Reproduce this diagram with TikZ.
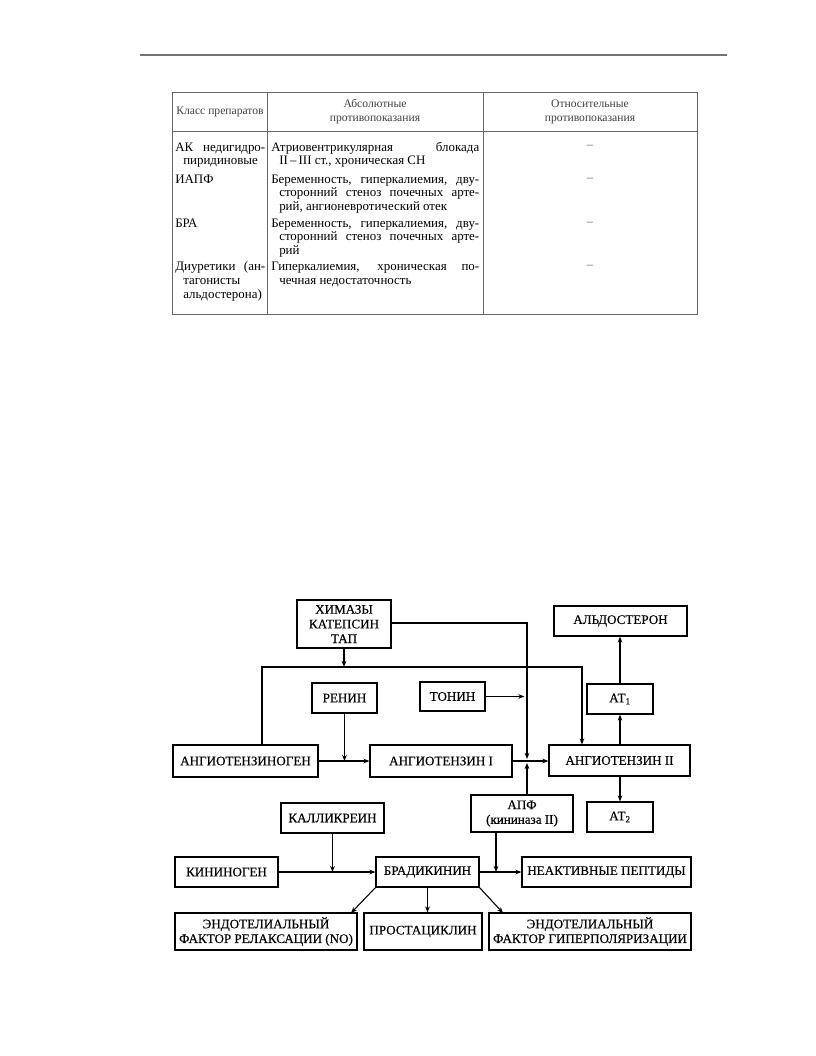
\documentclass[tikz,border=0pt]{standalone}
\usepackage{fontspec}
\setmainfont{Liberation Serif}
\newfontfamily\diafont[FakeBold=0.35]{Liberation Serif}
\usetikzlibrary{arrows.meta}
\newcommand\mybox[6]{\node[box, minimum width={(#4-#2)*0.75pt}, minimum height={(#5-#3)*0.75pt}] (#1) at ({(#2+#4)/2},{(#3+#5)/2}) {#6};}
\begin{document}
\begin{tikzpicture}[x=0.75pt,y=-0.75pt,
  box/.style={draw, line width=0.9pt, inner sep=0pt, align=center, font=\diafont\fontsize{9.8}{11}\selectfont},
  arr/.style={line width=0.8pt, -{Stealth[length=4.5pt,width=3.5pt]}},
  tl/.style={draw=black!60, line width=0.7pt},
  cell/.style={anchor=base west, inner sep=0pt, font=\fontsize{9.7}{11}\selectfont},
  dsh/.style={inner sep=0pt, font=\fontsize{9.3}{11}\selectfont, text=black!60},
  hdr/.style={inner sep=0pt, align=center, font=\fontsize{8.7}{10.5}\selectfont, text=black!75}]
\useasboundingbox (0,0) rectangle (816,1056);
% page rule
\draw[draw=black!55, line width=0.8pt] (140,55) -- (727,55);
% table frame
\draw[tl] (172,92) rectangle (697,314);
\draw[tl] (172,131) -- (697,131);
\draw[tl] (267,92) -- (267,314);
\draw[tl] (483,92) -- (483,314);
% header
\node[hdr] (h1) at (220,112) {Класс препаратов};
\node[hdr] (h2) at (375,112) {Абсолютные\\противопоказания};
\node[hdr] (h3) at (590,112) {Относительные\\противопоказания};
% column 1
\node[cell] (a1) at (175,151) {\makebox[67.5pt][s]{АК недигидро-}};
\node[cell] (a2) at (183,164) {пиридиновые};
\node[cell] (a3) at (175,183) {ИАПФ};
\node[cell] (a4) at (175,227) {БРА};
\node[cell] (a5) at (175,270) {\makebox[67.5pt][s]{Диуретики (ан-}};
\node[cell] (a6) at (183,284) {тагонисты};
\node[cell] (a7) at (183,298) {альдостерона)};
% column 2
\node[cell] (b1) at (271,151) {\makebox[156pt][s]{Атриовентрикулярная блокада}};
\node[cell] (b2) at (279,164) {II\,–\,III ст., хроническая СН};
\node[cell] (b3) at (271,183) {\makebox[156pt][s]{Беременность, гиперкалиемия, дву-}};
\node[cell] (b4) at (279,196) {\makebox[150pt][s]{сторонний стеноз почечных арте-}};
\node[cell] (b5) at (279,210) {рий, ангионевротический отек};
\node[cell] (b6) at (271,227) {\makebox[156pt][s]{Беременность, гиперкалиемия, дву-}};
\node[cell] (b7) at (279,240) {\makebox[150pt][s]{сторонний стеноз почечных арте-}};
\node[cell] (b8) at (279,254) {рий};
\node[cell] (b9) at (271,270) {\makebox[156pt][s]{Гиперкалиемия, хроническая по-}};
\node[cell] (b10) at (279,284) {чечная недостаточность};
% column 3
\node[dsh] (c1) at (590,147) {–};
\node[dsh] (c2) at (590,180) {–};
\node[dsh] (c3) at (590,224) {–};
\node[dsh] (c4) at (590,267) {–};

% ---------- diagram ----------
\mybox{chym}{297}{600}{391}{648}{ХИМАЗЫ\\КАТЕПСИН\\ТАП}
\mybox{renin}{312}{683}{377}{713}{РЕНИН}
\mybox{tonin}{420}{682}{485}{711}{ТОНИН}
\mybox{aldo}{554}{606}{687}{636}{АЛЬДОСТЕРОН}
\mybox{at1}{587}{684}{653}{714}{АТ\textsubscript{1}}
\mybox{agen}{173}{745}{318}{777}{АНГИОТЕНЗИНОГЕН}
\mybox{ang1}{370}{745}{512}{777}{АНГИОТЕНЗИН I}
\mybox{ang2}{549}{745}{690}{776}{АНГИОТЕНЗИН II}
\mybox{apf}{471}{795}{573}{832}{АПФ\\(кининаза II)}
\mybox{at2}{587}{802}{653}{832}{АТ\textsubscript{2}}
\mybox{kal}{281}{803}{384}{833}{КАЛЛИКРЕИН}
\mybox{kgen}{175}{857}{278}{887}{КИНИНОГЕН}
\mybox{brad}{376}{857}{479}{887}{БРАДИКИНИН}
\mybox{inact}{522}{857}{691}{887}{НЕАКТИВНЫЕ ПЕПТИДЫ}
\mybox{edrf}{175}{913}{357}{950}{ЭНДОТЕЛИАЛЬНЫЙ\\ФАКТОР РЕЛАКСАЦИИ (NO)}
\mybox{prost}{364}{913}{482}{950}{ПРОСТАЦИКЛИН}
\mybox{edhf}{489}{913}{691}{950}{ЭНДОТЕЛИАЛЬНЫЙ\\ФАКТОР ГИПЕРПОЛЯРИЗАЦИИ}

\coordinate (l1) at (262,667);
\coordinate (r1) at (582,667);
\coordinate (vx) at (527,623);
\coordinate (m1) at (527,761);
\coordinate (ax) at (496,872);
\coordinate (dl) at (351,913);
\coordinate (dr) at (503,913);

% big loop from angiotensinogen to angiotensin II
\draw[arr] (agen.north -| l1) -- (l1) -- (r1) -- (ang2.north -| r1);
\draw[arr] (chym.south) -- (chym.south |- l1);
% chymase line down to the ANG I - ANG II arrow
\draw[arr] (chym.east |- vx) -- (vx) -- ([yshift=1.5pt]m1);
\draw[arr] (apf.north -| m1) -- ([yshift=-1.5pt]m1);
\draw[arr] (tonin.east) -- ([xshift=-2pt]tonin.east -| vx);
% main chain
\draw[arr] (agen.east |- m1) -- (ang1.west |- m1);
\draw[arr] (renin.south) -- (renin.south |- m1);
\draw[arr] (ang1.east |- m1) -- (ang2.west |- m1);
\draw[arr] (at1.south |- ang2.north) -- (at1.south);
\draw[arr] (at1.north) -- (at1.north |- aldo.south);
\draw[arr] (at2.north |- ang2.south) -- (at2.north);
% kinin chain
\draw[arr] (kgen.east) -- (brad.west);
\draw[arr] (kal.south) -- (kal.south |- kgen.east);
\draw[arr] (brad.east) -- (inact.west);
\draw[arr] (apf.south -| ax) -- (ax);
\draw[arr] (brad.south west) -- (dl);
\draw[arr] (brad.south) -- (brad.south |- prost.north);
\draw[arr] (brad.south east) -- (dr);
\end{tikzpicture}
\end{document}
